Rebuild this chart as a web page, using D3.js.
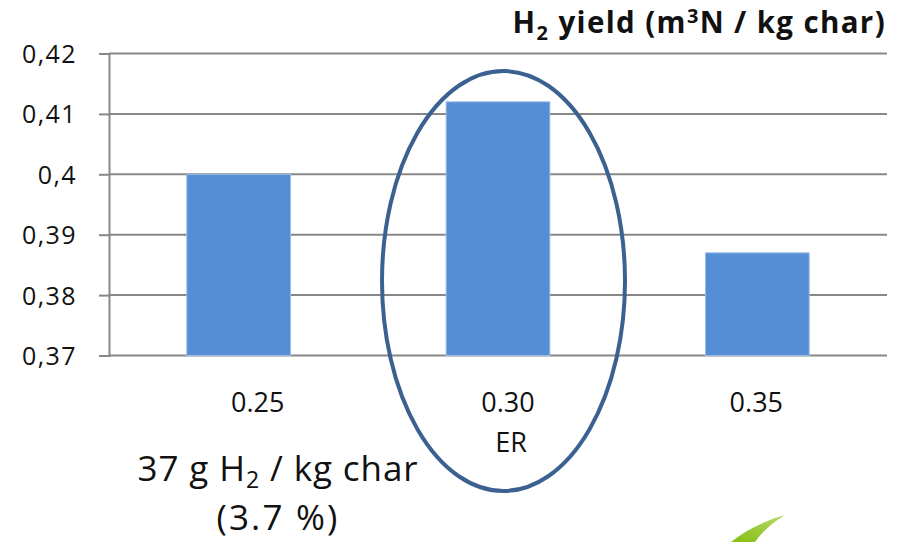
<!DOCTYPE html>
<html>
<head>
<meta charset="utf-8">
<script src="https://cdn.jsdelivr.net/npm/d3@7"></script>
<style>
  html, body { margin: 0; padding: 0; background: #ffffff; }
  svg { display: block; font-family: "Open Sans", "Noto Sans", sans-serif; }
</style>
</head>
<body>
<svg id="chart" width="897" height="542"></svg>
<script>
// Equivalence ratio categories and hydrogen yield per kg of char
const categories = ["0.25", "0.30", "0.35"];
const h2Yield = [0.400, 0.412, 0.387];
const yTicks = [0.37, 0.38, 0.39, 0.40, 0.41, 0.42];
const highlighted = "0.30";

const plot = { left: 109, right: 887, top: 53.5, bottom: 355.5 };

const svg = d3.select("#chart");

const x = d3.scaleBand()
  .domain(categories)
  .range([plot.left, plot.right])
  .paddingInner(0.6)
  .paddingOuter(0.3);

const y = d3.scaleLinear()
  .domain([0.37, 0.42])
  .range([plot.bottom, plot.top]);

// decimal comma for the value axis
const locale = d3.formatLocale({ decimal: ",", thousands: ".", grouping: [3], currency: ["", ""] });
const fmt = locale.format(".2~f");

const gridColor = "#878787";

// spread letters so a text spans a given width
function fitWidth(sel, target) {
  const node = sel.node();
  const w = node.getComputedTextLength();
  const n = node.getNumberOfChars();
  if (n > 1) sel.style("letter-spacing", ((target - w) / (n - 1)) + "px");
}

// horizontal gridlines
svg.append("g")
  .selectAll("line")
  .data(yTicks)
  .join("line")
  .attr("x1", plot.left)
  .attr("x2", plot.right)
  .attr("y1", d => y(d))
  .attr("y2", d => y(d))
  .attr("stroke", gridColor)
  .attr("stroke-width", 2);

// value axis
const yAxis = d3.axisLeft(y)
  .tickValues(yTicks)
  .tickFormat(fmt)
  .tickSize(10)
  .tickPadding(22);

const gy = svg.append("g")
  .attr("transform", `translate(${plot.left},0)`)
  .call(yAxis);
gy.select(".domain").attr("stroke", gridColor).attr("stroke-width", 2);
gy.selectAll(".tick line").attr("stroke", gridColor).attr("stroke-width", 2);
gy.selectAll(".tick text")
  .attr("fill", "#111")
  .attr("dy", "0.36em")
  .style("font-family", "'Open Sans', sans-serif")
  .style("font-size", "25px")
  .style("letter-spacing", "1.4px");

// bars
svg.append("g")
  .selectAll("rect")
  .data(categories.map((c, i) => ({ c, v: h2Yield[i] })))
  .join("rect")
  .attr("x", d => x(d.c))
  .attr("width", x.bandwidth())
  .attr("y", d => y(d.v))
  .attr("height", d => y(0.37) - y(d.v))
  .attr("fill", "#558ed5")
  .attr("stroke", "#9dbce6")
  .attr("stroke-width", 1);

// category labels (shifted slightly as laid out on the slide)
const labelShift = [19, 10, -1];
svg.append("g")
  .selectAll("text")
  .data(categories)
  .join("text")
  .attr("x", (d, i) => x(d) + x.bandwidth() / 2 + labelShift[i])
  .attr("y", 412)
  .attr("text-anchor", "middle")
  .attr("fill", "#111")
  .style("font-size", "27px")
  .text(d => d);

svg.append("text")
  .attr("x", x(highlighted) + x.bandwidth() / 2 + 13)
  .attr("y", 451.5)
  .attr("text-anchor", "middle")
  .attr("fill", "#111")
  .style("font-size", "27px")
  .text("ER");

// title
const title = svg.append("text")
  .attr("x", 886)
  .attr("y", 33)
  .attr("text-anchor", "end")
  .attr("fill", "#111")
  .style("font-size", "29.5px")
  .style("font-weight", "700");
title.append("tspan").text("H");
title.append("tspan").attr("dy", 7).style("font-size", "20px").text("2");
title.append("tspan").attr("dy", -7).text(" yield (m");
title.append("tspan").attr("dy", -10).style("font-size", "20px").text("3");
title.append("tspan").attr("dy", 10).text("N / kg char)");
fitWidth(title, 372);

// highlight ellipse around the best ER
svg.append("ellipse")
  .attr("cx", x(highlighted) + x.bandwidth() / 2 + 5.5)
  .attr("cy", 281)
  .attr("rx", 121.5)
  .attr("ry", 210)
  .attr("fill", "none")
  .attr("stroke", "#3a6190")
  .attr("stroke-width", 4);

// annotation
const note = svg.append("text")
  .attr("x", 278)
  .attr("y", 481)
  .attr("text-anchor", "middle")
  .attr("fill", "#111")
  .style("font-size", "35px");
note.append("tspan").text("37 g H");
note.append("tspan").attr("dy", 7).style("font-size", "23px").text("2");
note.append("tspan").attr("dy", -7).text(" / kg char");
fitWidth(note, 280);

const note2 = svg.append("text")
  .attr("x", 278)
  .attr("y", 529.5)
  .attr("text-anchor", "middle")
  .attr("fill", "#111")
  .style("font-size", "35px")
  .text("(3.7 %)");
fitWidth(note2, 121);

// green logo swoosh at the corner
const grad = svg.append("defs").append("linearGradient")
  .attr("id", "swoosh").attr("x1", "0").attr("y1", "1").attr("x2", "1").attr("y2", "0");
grad.append("stop").attr("offset", "0").attr("stop-color", "#86bd12");
grad.append("stop").attr("offset", "1").attr("stop-color", "#b5d96a");
svg.append("path")
  .attr("d", "M731,542 C746,530 764,521 785,515 C772,523 762,532 755,542 Z")
  .attr("fill", "url(#swoosh)");
</script>
</body>
</html>
